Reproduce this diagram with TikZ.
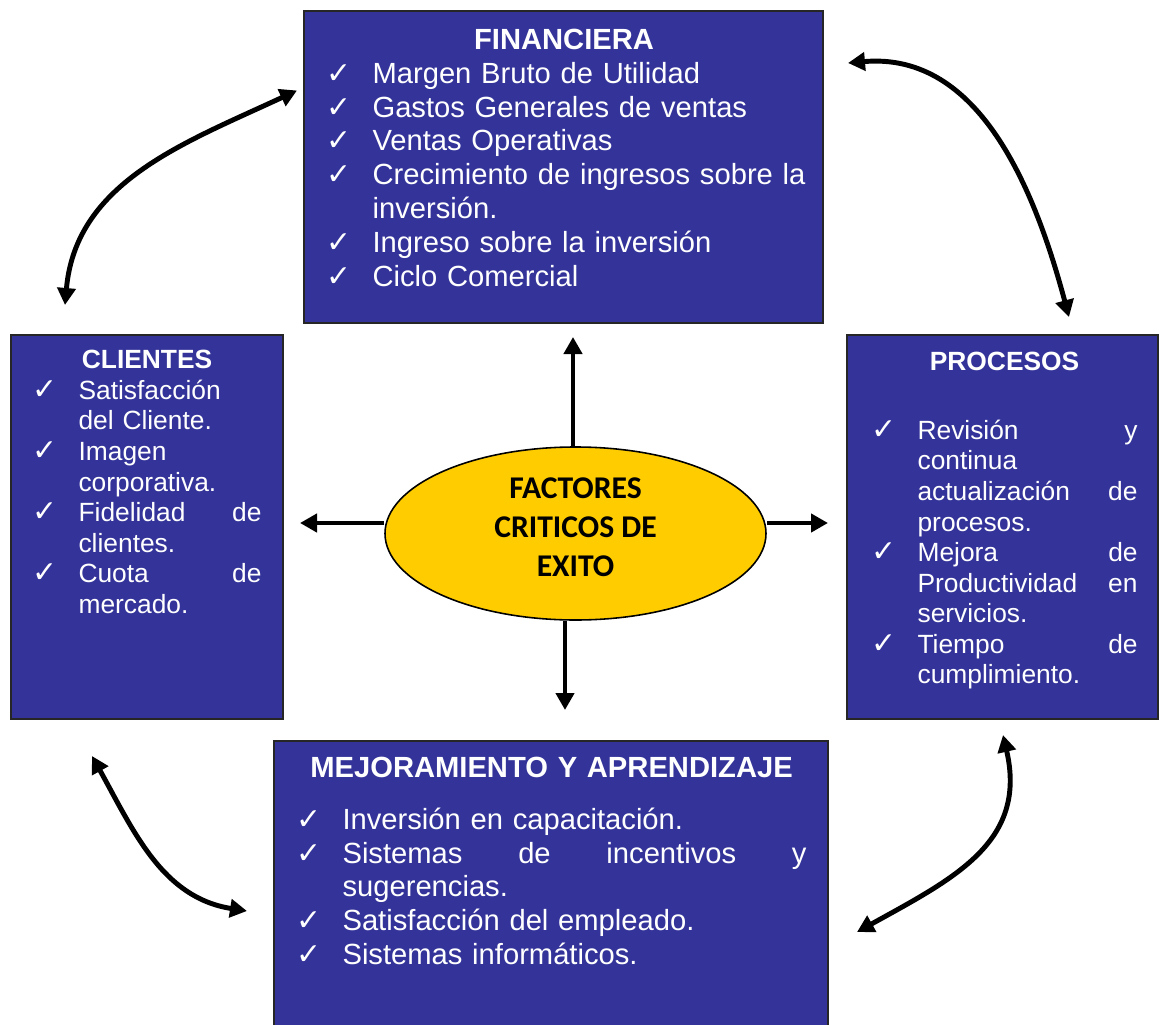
\documentclass[tikz,border=0pt]{standalone}
\usepackage{fontspec}
\setmainfont{Liberation Sans}
\newfontfamily\calibri{Carlito}
\newfontfamily\symfont{DejaVu Sans}
\usetikzlibrary{shapes.geometric,arrows.meta,positioning,calc}

\definecolor{boxblue}{RGB}{51,51,153}
\definecolor{coreyellow}{RGB}{255,204,0}

\newlength\chkw
\setlength\chkw{0.92cm}
\newcommand{\chk}{{\symfont\fontsize{17}{17}\selectfont ✓}}
\newcommand{\itm}{\makebox[\chkw][l]{\chk}}
\newcommand{\rest}{\hspace*{\chkw}}
\newcommand{\head}[1]{\makebox[\linewidth]{\textbf{#1}}}

\begin{document}
\begin{tikzpicture}[
    panel/.style={draw=black!85, line width=0.9pt, fill=boxblue, rectangle, inner sep=0pt},
    core/.style={draw=black, line width=0.9pt, fill=coreyellow, ellipse, minimum width=7.62cm, minimum height=3.46cm},
    corelabel/.style={align=center, font=\calibri\bfseries\fontsize{18}{22.2}\selectfont},
    txtlarge/.style={text=white, align=left, inner sep=0pt, anchor=base west, font=\fontsize{16.6}{19.3}\selectfont},
    txtsmall/.style={text=white, align=left, inner sep=0pt, anchor=base west, font=\fontsize{15}{17.4}\selectfont},
    edge/.style={-{Triangle[length=0.34cm,width=0.36cm]}, line width=2.8pt},
    link/.style={{Triangle[length=0.34cm,width=0.36cm]}-{Triangle[length=0.34cm,width=0.36cm]}, line width=2.8pt},
]

\useasboundingbox (0,0) rectangle (23.3,-20.5);

% Panels
\node[panel, minimum width=10.38cm, minimum height=6.24cm] (fin) at (11.27,-3.34) {};
\node[panel, minimum width=5.44cm, minimum height=7.68cm] (cli) at (2.94,-10.54) {};
\node[panel, minimum width=6.22cm, minimum height=7.68cm] (pro) at (20.05,-10.54) {};
\node[panel, minimum width=11.08cm, minimum height=5.88cm] (mej) at (11.02,-17.76) {};
\node[core] (ctr) at (11.51,-10.67) {};
\node[corelabel] (ctrtxt) at ([yshift=0.12cm]ctr.center) {FACTORES\\CRITICOS DE\\EXITO};

% Lists
\node[txtlarge, text width=9.5cm] (finlist) at ($(fin.north west)+(0.46,-0.78)$) {
  \head{FINANCIERA}\\
  \itm Margen Bruto de Utilidad\\
  \itm Gastos Generales de ventas\\
  \itm Ventas Operativas\\
  \itm\mbox{Crecimiento de ingresos sobre la}\\
  \rest inversión.\\
  \itm Ingreso sobre la inversión\\
  \itm Ciclo Comercial
};

\node[txtsmall, text width=4.58cm] (clilist) at ($(cli.north west)+(0.44,-0.69)$) {
  \head{CLIENTES}\\
  \itm Satisfacción\\
  \rest del Cliente.\\
  \itm Imagen\\
  \rest corporativa.\\
  \itm Fidelidad\hfill de\\
  \rest clientes.\\
  \itm Cuota\hfill de\\
  \rest mercado.
};

\node[txtsmall, text width=5.32cm] (prolist) at ($(pro.north west)+(0.50,-0.73)$) {
  \head{PROCESOS}\\[0.76cm]
  \itm Revisión\hfill y\\
  \rest continua\\
  \rest actualización\hfill de\\
  \rest procesos.\\
  \itm Mejora\hfill de\\
  \rest Productividad\hfill en\\
  \rest servicios.\\
  \itm Tiempo\hfill de\\
  \rest cumplimiento.
};

\node[txtlarge, text width=10.2cm] (mejlist) at ($(mej.north west)+(0.46,-0.74)$) {
  \head{MEJORAMIENTO Y APRENDIZAJE}\\[0.36cm]
  \itm Inversión en capacitación.\\
  \itm Sistemas\hfill de\hfill incentivos\hfill y\\
  \rest sugerencias.\\
  \itm Satisfacción del empleado.\\
  \itm Sistemas informáticos.
};

% Arrow ends
\coordinate (tipN) at (11.46,-6.74);
\coordinate (tipS) at (11.30,-14.20);
\coordinate (tipW) at (6.00,-10.46);
\coordinate (tipE) at (16.56,-10.46);

\coordinate (finL) at (5.94,-1.81);
\coordinate (cliT) at (1.30,-6.10);
\coordinate (finR) at (16.96,-1.26);
\coordinate (proT) at (21.38,-6.34);
\coordinate (cliB) at (1.84,-15.12);
\coordinate (mejL) at (4.94,-18.22);
\coordinate (proB) at (20.06,-14.70);
\coordinate (mejR) at (17.14,-18.64);

% From the centre outwards
\draw[edge] (ctr.north -| tipN) -- (tipN);
\draw[edge] (ctr.south -| tipS) -- (tipS);
\draw[edge] (ctr.west |- tipW) -- (tipW);
\draw[edge] (ctr.east |- tipE) -- (tipE);

% Round the corners
\draw[link] (finL) to[out=205, in=85] (cliT);
\draw[link] (finR) to[out=5, in=105] (proT);
\draw[link] (cliB) to[out=299, in=171] (mejL);
\draw[link] (proB) to[out=283, in=29, looseness=1.15] (mejR);

\end{tikzpicture}
\end{document}
